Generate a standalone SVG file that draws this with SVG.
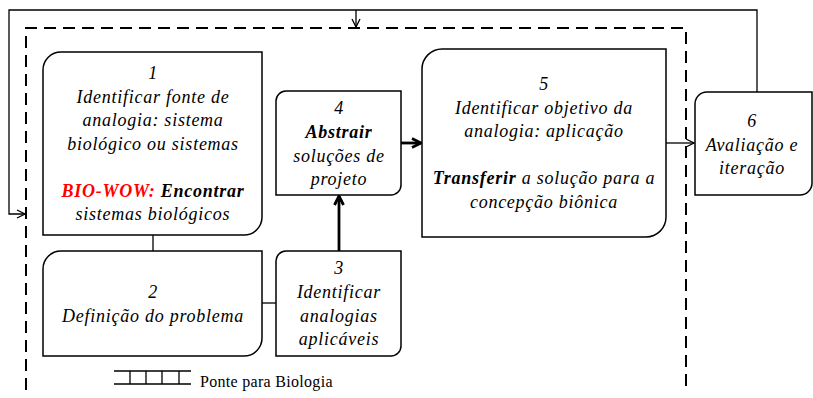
<svg xmlns="http://www.w3.org/2000/svg" width="813" height="398" viewBox="0 0 813 398">
<style>
.node{fill:#fff;stroke:#000;stroke-width:1.5}
.t{font-family:'Liberation Serif',serif;font-style:italic;font-size:18px;letter-spacing:0.75px;fill:#000;text-anchor:middle}
.b{font-weight:bold}
.red{fill:#ff0000}
.c{fill:none;stroke:#000;stroke-width:1.3}
.thick{fill:none;stroke:#000;stroke-width:2.8}
.lg{font-family:'Liberation Serif',serif;font-size:16px;letter-spacing:0.3px;fill:#000}
</style>
<defs>
<marker id="ah" viewBox="0 0 10 10" refX="9" refY="5" markerWidth="10" markerHeight="10" markerUnits="userSpaceOnUse" orient="auto">
<path d="M1,1 L9,5 L1,9" fill="none" stroke="#000" stroke-width="1.3"/>
</marker>
<marker id="ahT" viewBox="0 0 12 12" refX="10.5" refY="6" markerWidth="12" markerHeight="12" markerUnits="userSpaceOnUse" orient="auto">
<path d="M1.5,1.5 L10.5,6 L1.5,10.5" fill="none" stroke="#000" stroke-width="2.8"/>
</marker>
</defs>
<rect width="813" height="398" fill="#fff"/>
<path d="M26,390 V28 H686 V390" fill="none" stroke="#000" stroke-width="2" stroke-dasharray="12,7"/>
<g id="connectors">
<path class="c" d="M757,92 V10 H9 V214 H25" marker-end="url(#ah)"/>
<path class="c" d="M356,10 V27" marker-end="url(#ah)"/>
<path class="c" d="M153,235 V251"/>
<path class="c" d="M262,303 H276"/>
<path class="thick" d="M339,251 V196" marker-end="url(#ahT)"/>
<path class="thick" d="M401,143 H421" marker-end="url(#ahT)"/>
<path class="c" d="M666,143 H694" marker-end="url(#ah)"/>
</g>
<g id="node1">
<path class="node" d="M61,52 H262 V217 A18,18 0 0 1 244,235 H43 V70 A18,18 0 0 1 61,52 Z"/>
<text class="t" x="153" y="79">1</text>
<text class="t" x="153" y="102.5">Identificar fonte de</text>
<text class="t" x="153" y="126">analogia: sistema</text>
<text class="t" x="153" y="149.5">biológico ou sistemas</text>
<text class="t" x="153" y="196.5"><tspan class="b red">BIO-WOW:</tspan> <tspan class="b">Encontrar</tspan></text>
<text class="t" x="153" y="220">sistemas biológicos</text>
</g>
<g id="node2">
<path class="node" d="M61,251 H262 V338 A18,18 0 0 1 244,356 H43 V269 A18,18 0 0 1 61,251 Z"/>
<text class="t" x="153" y="298">2</text>
<text class="t" x="153" y="322">Definição do problema</text>
</g>
<g id="node3">
<path class="node" d="M286,251 H401 V346 A10,10 0 0 1 391,356 H276 V261 A10,10 0 0 1 286,251 Z"/>
<text class="t" x="339" y="274">3</text>
<text class="t" x="339" y="298">Identificar</text>
<text class="t" x="339" y="321.5">analogias</text>
<text class="t" x="339" y="345">aplicáveis</text>
</g>
<g id="node4">
<path class="node" d="M286,91 H401 V185 A10,10 0 0 1 391,195 H276 V101 A10,10 0 0 1 286,91 Z"/>
<text class="t" x="339" y="114">4</text>
<text class="t b" x="339" y="138">Abstrair</text>
<text class="t" x="339" y="161.5">soluções de</text>
<text class="t" x="339" y="185">projeto</text>
</g>
<g id="node5">
<path class="node" d="M442,49 H666 V217 A20,20 0 0 1 646,237 H422 V69 A20,20 0 0 1 442,49 Z"/>
<text class="t" x="544" y="90">5</text>
<text class="t" x="544" y="113.5">Identificar objetivo da</text>
<text class="t" x="544" y="137">analogia: aplicação</text>
<text class="t" x="544" y="184"><tspan class="b">Transferir</tspan> a solução para a</text>
<text class="t" x="544" y="207.5">concepção biônica</text>
</g>
<g id="node6">
<path class="node" d="M707,92 H812 V183 A12,12 0 0 1 800,195 H695 V104 A12,12 0 0 1 707,92 Z"/>
<text class="t" x="752" y="127">6</text>
<text class="t" x="752" y="150.5">Avaliação e</text>
<text class="t" x="752" y="174">iteração</text>
</g>
<g id="legend">
<path d="M114,371 H191 M114,384 H191 M130,371 V384 M146,371 V384 M162,371 V384 M179,371 V384" fill="none" stroke="#000" stroke-width="1.3"/>
<text class="lg" x="200" y="387">Ponte para Biologia</text>
</g>
</svg>
